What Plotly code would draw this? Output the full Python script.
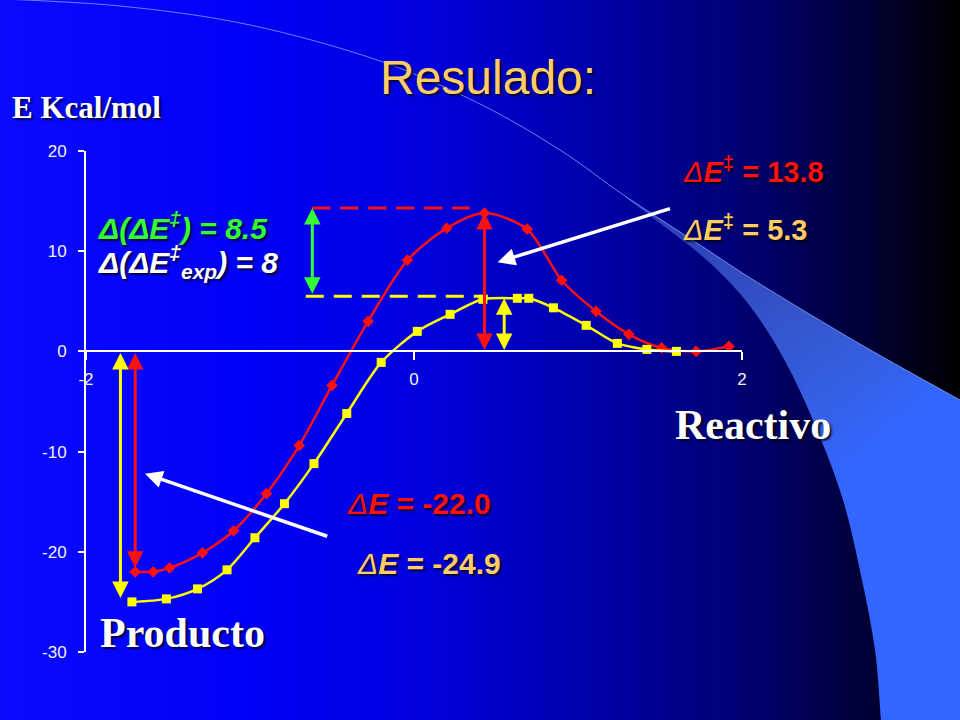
import base64
import plotly.graph_objects as go

# reaction coordinate vs energy (kcal/mol)
red_x = [-1.70, -1.59, -1.49, -1.29, -1.10, -0.90, -0.70, -0.50, -0.28, -0.04,
         0.20, 0.43, 0.69, 0.90, 1.11, 1.31, 1.51, 1.72, 1.92]
red_y = [-22.0, -22.0, -21.6, -20.1, -17.9, -14.2, -9.4, -3.4, 3.0, 9.1,
         12.3, 13.8, 12.2, 7.1, 4.0, 1.7, 0.35, 0.0, 0.5]
yel_x = [-1.72, -1.51, -1.32, -1.14, -0.97, -0.79, -0.61, -0.41, -0.20, 0.02,
         0.22, 0.42, 0.63, 0.70, 0.85, 1.05, 1.24, 1.42, 1.60]
yel_y = [-25.0, -24.7, -23.7, -21.8, -18.6, -15.2, -11.2, -6.2, -1.1, 2.0,
         3.7, 5.2, 5.3, 5.3, 4.35, 2.6, 0.8, 0.2, 0.0]

x_ticks = [-2, 0, 2]
x_tick_labels = ["-2", "0", "2"]
y_ticks = [-30, -20, -10, 0, 10, 20]
y_tick_labels = ["-30", "-20", "-10", "0", "10", "20"]

# values marked by the arrows
barrier_red = 13.8
barrier_yel = 5.3
dE_red = -22.0
dE_yel = -24.9

RED = "#ff1010"
YEL = "#ffff00"
ORANGE = "#ffcc66"
GREEN = "#33ff33"

# plot area in pixels of the 960x720 slide
L, R, T, B = 86, 742, 151, 652


def px(x):
    return (x - L) / (R - L)


def py(y):
    return (B - y) / (B - T)


def smooth(pts):
    d = "M%.1f,%.1f" % pts[0]
    for i in range(len(pts) - 1):
        p0 = pts[i - 1] if i > 0 else pts[i]
        p1, p2 = pts[i], pts[i + 1]
        p3 = pts[i + 2] if i + 2 < len(pts) else p2
        c1 = (p1[0] + (p2[0] - p0[0]) / 6, p1[1] + (p2[1] - p0[1]) / 6)
        c2 = (p2[0] - (p3[0] - p1[0]) / 6, p2[1] - (p3[1] - p1[1]) / 6)
        d += " C%.1f,%.1f %.1f,%.1f %.1f,%.1f" % (c1 + c2 + p2)
    return d


# slide background: horizontal blue->black gradient plus the light swoosh
arc = [(-20, -2), (120, 6), (250, 25), (380, 61), (480, 104), (560, 150),
       (625, 196), (700, 245), (760, 284), (860, 344), (960, 400)]
upper = arc[6:]
lower = [(625, 197), (665, 227), (710, 263), (750, 306), (785, 361), (815, 425),
         (843, 500), (862, 580), (875, 650), (881, 720)]
band = smooth(upper) + " L960,720 L881,720 L" + smooth(lower[::-1])[1:] + " Z"

svg = f"""<svg xmlns="http://www.w3.org/2000/svg" width="960" height="720" viewBox="0 0 960 720">
<defs>
<linearGradient id="bg" x1="0" y1="0" x2="1" y2="0">
<stop offset="0" stop-color="#0a0aff"/>
<stop offset="0.25" stop-color="#0000fa"/>
<stop offset="0.45" stop-color="#0000dc"/>
<stop offset="0.62" stop-color="#0000a8"/>
<stop offset="0.78" stop-color="#000070"/>
<stop offset="0.9" stop-color="#000038"/>
<stop offset="1" stop-color="#000000"/>
</linearGradient>
<linearGradient id="sw" gradientUnits="userSpaceOnUse" x1="640" y1="200" x2="860" y2="460">
<stop offset="0" stop-color="#5a7ee0" stop-opacity="0.45"/>
<stop offset="1" stop-color="#3366ff" stop-opacity="1"/>
</linearGradient>
</defs>
<rect x="0" y="0" width="960" height="720" fill="url(#bg)"/>
<path d="{band}" fill="url(#sw)"/>
<path d="{smooth(arc)}" fill="none" stroke="#8fa8ff" stroke-opacity="0.75" stroke-width="1"/>
</svg>"""
bg_src = "data:image/svg+xml;base64," + base64.b64encode(svg.encode()).decode()

fig = go.Figure()
fig.add_trace(go.Scatter(x=red_x, y=red_y, mode="lines+markers",
                         line=dict(color=RED, width=2.5, shape="spline", smoothing=0.8),
                         marker=dict(symbol="diamond", size=9, color=RED)))
fig.add_trace(go.Scatter(x=yel_x, y=yel_y, mode="lines+markers",
                         line=dict(color=YEL, width=2.5, shape="spline", smoothing=0.8),
                         marker=dict(symbol="square", size=9, color=YEL)))

# dashed guide lines for the two barriers
fig.add_shape(type="line", x0=-0.62, x1=0.34, y0=14.3, y1=14.3,
              line=dict(color=RED, width=3, dash="18px,10px"))
fig.add_shape(type="line", x0=-0.66, x1=0.45, y0=5.5, y1=5.5,
              line=dict(color=YEL, width=3, dash="18px,10px"))


def arrow(x0, y0, x1, y1, color, width=3, both=True, size=1.1):
    fig.add_annotation(x=x1, y=y1, ax=x0, ay=y0, xref="x", yref="y", axref="x", ayref="y",
                       text="", showarrow=True, arrowhead=2, arrowsize=size,
                       startarrowhead=2, startarrowsize=size,
                       arrowside="end+start" if both else "end",
                       arrowwidth=width, arrowcolor=color, standoff=0, startstandoff=0)


arrow(0.43, 0, 0.43, barrier_red, RED)
arrow(0.55, 0, 0.55, barrier_yel, YEL)
arrow(-0.62, 5.6, -0.62, 14.3, GREEN)
arrow(-1.70, 0, -1.70, dE_red + 0.4, RED)
arrow(-1.79, 0, -1.79, dE_yel + 0.3, YEL)
arrow(1.57, 14.3, 0.51, 8.9, "white", width=3.5, both=False, size=1.0)
arrow(-0.52, -18.5, -1.64, -12.2, "white", width=3.5, both=False, size=1.0)

shadow = "2px 2px 2px rgba(0,0,0,0.75)"


def label(text, x, y, size, color, family="Liberation Sans", xanchor="left"):
    fig.add_annotation(x=px(x), y=py(y), xref="paper", yref="paper", text=text,
                       showarrow=False, xanchor=xanchor, yanchor="middle",
                       font=dict(family=family, size=size, color=color, shadow=shadow))


label("Resulado:", 488, 78, 48, ORANGE, xanchor="center")
label("<b>E Kcal/mol</b>", 10, 108, 31, "white", family="Liberation Serif")
label("<i>Δ</i><b><i>E</i><sup>‡</sup> = %.1f</b>" % barrier_red, 681, 170, 29, RED)
label("<i>Δ</i><b><i>E</i><sup>‡</sup> = %.1f</b>" % barrier_yel, 681, 228, 29, ORANGE)
label("<b><i>Δ(ΔE<sup>‡</sup>) = 8.5</i></b>", 96, 226, 30, GREEN)
label("<b><i>Δ(ΔE<sup>‡</sup><sub>exp</sub>) = 8</i></b>", 96, 262, 30, "white")
label("<i>Δ</i><b><i>E</i> = %.1f</b>" % dE_red, 345, 503, 30, RED)
label("<i>Δ</i><b><i>E</i> = %.1f</b>" % dE_yel, 355, 563, 30, ORANGE)
label("<b>Reactivo</b>", 673, 425, 42, "white", family="Liberation Serif")
label("<b>Producto</b>", 98, 633, 42, "white", family="Liberation Serif")

fig.update_layout(
    width=960, height=720,
    margin=dict(l=L, r=960 - R, t=T, b=720 - B),
    paper_bgcolor="#000080", plot_bgcolor="rgba(0,0,0,0)",
    showlegend=False,
    images=[dict(source=bg_src, xref="paper", yref="paper", x=px(0), y=py(0),
                 sizex=960 / (R - L), sizey=720 / (B - T), xanchor="left", yanchor="top",
                 sizing="stretch", layer="below")],
)
fig.update_xaxes(range=[-2, 2], tickvals=x_ticks, ticktext=x_tick_labels,
                 anchor="free", position=0.6,
                 showline=True, linecolor="white", linewidth=2, ticks="outside",
                 ticklen=8, tickwidth=2, tickcolor="white", showgrid=False, zeroline=False,
                 ticklabelstandoff=4,
                 tickfont=dict(family="Liberation Sans", size=17, color="#f0f0f0"))
fig.update_yaxes(range=[-30, 20], tickvals=y_ticks, ticktext=y_tick_labels,
                 showline=True, linecolor="white",
                 linewidth=2, ticks="outside", ticklen=6, tickwidth=2, tickcolor="white",
                 showgrid=False, zeroline=False, ticklabelstandoff=8,
                 tickfont=dict(family="Liberation Sans", size=17, color="#f0f0f0"))

fig.write_html("out.html", config={"displayModeBar": False},
               post_script="document.body.style.margin='0';")
